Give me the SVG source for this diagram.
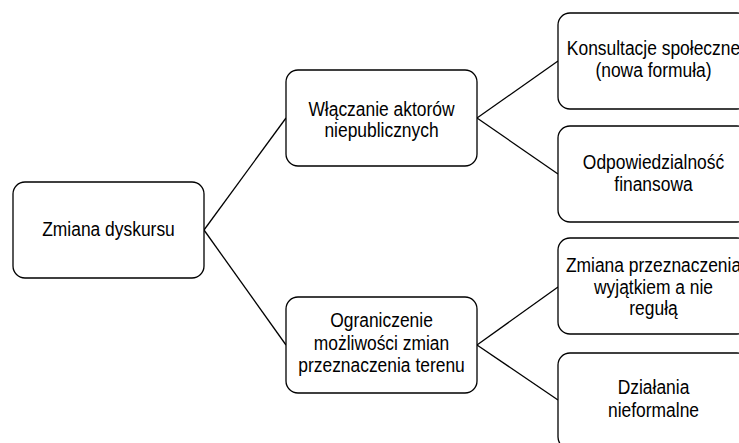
<svg xmlns="http://www.w3.org/2000/svg" width="739" height="443" viewBox="0 0 739 443">
<style>
.box{fill:#fff;stroke:#000;stroke-width:1.3}
.lbl{font-family:"Liberation Sans",Arial,sans-serif;font-size:21px;fill:#000;text-anchor:middle}
.con line{stroke:#000;stroke-width:1.3}
</style>
<rect width="739" height="443" fill="#fff"/>
<g class="con" id="connectors">
<line x1="204" y1="230" x2="286" y2="118"/>
<line x1="204" y1="230" x2="286" y2="345"/>
<line x1="477" y1="118" x2="558" y2="61"/>
<line x1="477" y1="118" x2="558" y2="174"/>
<line x1="477" y1="345" x2="558" y2="287"/>
<line x1="477" y1="345" x2="558" y2="400"/>
</g>
<g id="root">
<rect class="box" x="13" y="182" width="191" height="96" rx="12"/>
<text class="lbl" transform="translate(108.5,236) scale(0.83,1)">Zmiana dyskursu</text>
</g>
<g id="n1">
<rect class="box" x="286" y="70" width="191" height="96" rx="12"/>
<text class="lbl" transform="translate(381.5,115.5) scale(0.83,1)">Włączanie aktorów</text>
<text class="lbl" transform="translate(381.5,137) scale(0.83,1)">niepublicznych</text>
</g>
<g id="n2">
<rect class="box" x="286" y="297" width="191" height="96" rx="12"/>
<text class="lbl" transform="translate(381.5,327) scale(0.83,1)">Ograniczenie</text>
<text class="lbl" transform="translate(381.5,349.5) scale(0.83,1)">możliwości zmian</text>
<text class="lbl" transform="translate(381.5,372) scale(0.83,1)">przeznaczenia terenu</text>
</g>
<g id="n11">
<rect class="box" x="558" y="13" width="191" height="96" rx="12"/>
<text class="lbl" transform="translate(653.5,55) scale(0.83,1)">Konsultacje społeczne</text>
<text class="lbl" transform="translate(653.5,77) scale(0.83,1)">(nowa formuła)</text>
</g>
<g id="n12">
<rect class="box" x="558" y="126" width="191" height="96" rx="12"/>
<text class="lbl" transform="translate(653.5,168.5) scale(0.83,1)">Odpowiedzialność</text>
<text class="lbl" transform="translate(653.5,191) scale(0.83,1)">finansowa</text>
</g>
<g id="n21">
<rect class="box" x="558" y="238" width="191" height="96" rx="12"/>
<text class="lbl" transform="translate(653.5,272) scale(0.83,1)">Zmiana przeznaczenia</text>
<text class="lbl" transform="translate(653.5,293.5) scale(0.83,1)">wyjątkiem a nie</text>
<text class="lbl" transform="translate(653.5,315) scale(0.83,1)">regułą</text>
</g>
<g id="n22">
<rect class="box" x="558" y="353" width="191" height="96" rx="12"/>
<text class="lbl" transform="translate(653.5,393.5) scale(0.83,1)">Działania</text>
<text class="lbl" transform="translate(653.5,417) scale(0.83,1)">nieformalne</text>
</g>
</svg>
